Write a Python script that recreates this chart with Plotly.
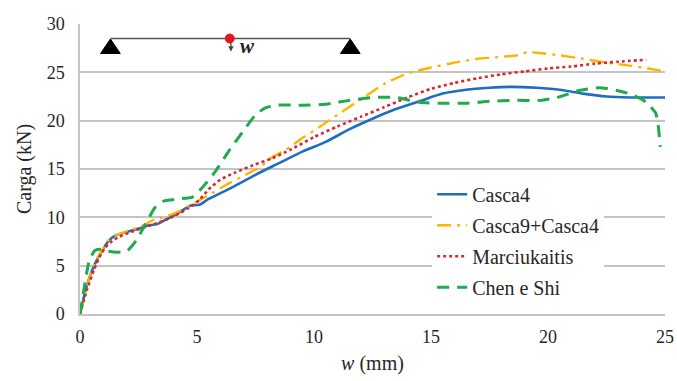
import plotly.graph_objects as go

# ---- data ----
casca4_x = [0, 0.3, 0.7, 1.2, 1.5, 2.0, 2.6, 3.0, 3.3, 3.7, 4.3, 4.7, 5.1, 5.5, 6.5, 7.5, 8.5, 9.5,
            10.5, 11.5, 12.5, 13.5, 14.5, 15.5, 16.5, 17.5, 18.5, 19.5, 20.5, 21.5, 22.5, 23.5, 25.0]
casca4_y = [0, 3.0, 5.5, 7.5, 8.1, 8.5, 8.9, 9.2, 9.3, 9.8, 10.6, 11.2, 11.3, 11.9, 13.1, 14.4, 15.6, 16.8,
            17.8, 19.1, 20.2, 21.2, 22.0, 22.8, 23.2, 23.4, 23.5, 23.4, 23.2, 22.8, 22.5, 22.4, 22.4]

casca9_x = [0, 0.3, 0.7, 1.2, 1.6, 2.2, 2.7, 3.2, 3.7, 4.3, 4.9, 5.5, 6.2, 7.0, 7.7, 8.2, 8.8, 9.5, 10.2,
            11.0, 12.0, 13.0, 14.0, 15.0, 16.0, 17.0, 18.0, 18.8, 19.1, 19.6, 20.4, 21.5, 22.5, 23.5, 24.3, 25.0]
casca9_y = [0, 3.0, 5.6, 7.6, 8.2, 8.7, 9.2, 9.8, 10.1, 10.7, 11.5, 12.3, 13.3, 14.3, 15.2, 16.2, 17.0, 18.2, 19.3,
            20.6, 22.2, 23.8, 24.9, 25.5, 26.0, 26.4, 26.6, 26.8, 27.1, 27.0, 26.8, 26.4, 26.0, 25.7, 25.4, 25.1]

marc_x = [0, 0.3, 0.6, 0.9, 1.2, 1.6, 2.2, 2.8, 3.4, 4.0, 4.6, 5.1, 5.5, 6.0, 6.6, 7.4, 8.2, 9.0, 10.0,
          11.0, 12.0, 13.0, 14.0, 15.0, 16.0, 17.0, 18.0, 19.0, 20.0, 21.0, 22.0, 23.0, 24.2]
marc_y = [0, 2.5, 4.6, 6.2, 7.2, 7.9, 8.5, 9.0, 9.5, 10.1, 10.9, 11.8, 12.9, 13.9, 14.6, 15.4, 16.1, 17.0, 18.3,
          19.4, 20.4, 21.4, 22.4, 23.3, 23.9, 24.4, 24.8, 25.1, 25.4, 25.6, 25.9, 26.1, 26.3]

chen_x = [0, 0.2, 0.4, 0.65, 0.9, 1.2, 1.6, 2.0, 2.4, 2.8, 3.2, 3.6, 4.2, 4.8, 5.2, 5.8, 6.4, 7.0, 7.5, 7.9,
          8.4, 9.5, 10.5, 11.5, 12.5, 13.5, 14.5, 15.5, 16.5, 17.5, 18.5, 19.7, 20.4, 21.3, 22.2, 23.0, 23.6,
          24.2, 24.6, 24.7, 24.8]
chen_y = [0, 3.0, 5.6, 6.6, 6.7, 6.5, 6.4, 6.5, 7.6, 9.3, 11.0, 11.7, 11.9, 12.1, 13.0, 14.8, 17.0, 19.0, 20.6, 21.3,
          21.6, 21.6, 21.7, 22.1, 22.4, 22.4, 21.9, 21.8, 21.8, 22.0, 22.1, 22.1, 22.4, 23.1, 23.4, 23.1, 22.7,
          21.9, 20.8, 19.7, 17.3]

series_names = ["Casca4", "Casca9+Casca4", "Marciukaitis", "Chen e Shi"]
x_ticks = [0, 5, 10, 15, 20, 25]
y_ticks = [0, 5, 10, 15, 20, 25, 30]

FONT = "Liberation Serif"
GRID = "#C4C4C4"
TXT = "#262626"

fig = go.Figure()
fig.add_trace(go.Scatter(x=casca4_x, y=casca4_y, mode="lines", name=series_names[0], legendgroup="a",
                         line=dict(color="#1F6DC2", width=2.6, shape="spline", smoothing=0.6)))
fig.add_trace(go.Scatter(x=casca9_x, y=casca9_y, mode="lines", name=series_names[1], legendgroup="b",
                         line=dict(color="#FFB300", width=2.4, dash="14px,6px,3px,6px", shape="spline", smoothing=0.4)))
fig.add_trace(go.Scatter(x=marc_x, y=marc_y, mode="lines", name=series_names[2], legendgroup="c",
                         line=dict(color="#D7282C", width=2.6, dash="dot", shape="spline", smoothing=0.6)))
fig.add_trace(go.Scatter(x=chen_x, y=chen_y, mode="lines", name=series_names[3], legendgroup="d",
                         line=dict(color="#1FAA4C", width=3, dash="12px,8px", shape="spline", smoothing=0.5)))

# ---- beam diagram ----
fig.add_shape(type="line", xref="x", yref="y", x0=1.3, x1=11.55, y0=28.5, y1=28.5,
              line=dict(color="#555555", width=1.5))
for cx in (1.3, 11.55):
    fig.add_shape(type="path", xref="x", yref="y",
                  path=f"M {cx} 28.45 L {cx-0.42} 26.95 L {cx+0.42} 26.95 Z",
                  fillcolor="black", line=dict(color="black", width=1))
fig.add_annotation(x=6.45, y=27.15, xref="x", yref="y", ax=0, ay=-11, text="", showarrow=True,
                   arrowhead=2, arrowsize=0.9, arrowwidth=1.2, arrowcolor="#444444")
fig.add_shape(type="circle", xref="x", yref="y", xsizemode="pixel", ysizemode="pixel",
              xanchor=6.4, yanchor=28.5, x0=-4.5, x1=4.5, y0=-4.5, y1=4.5,
              fillcolor="#E8161C", line=dict(color="#E8161C", width=1))
fig.add_annotation(x=6.75, y=27.7, xref="x", yref="y", xanchor="left", yanchor="middle",
                   text="<b><i>w</i></b>", showarrow=False,
                   font=dict(family=FONT, size=21, color="#222222"))

fig.update_layout(
    width=677, height=381,
    margin=dict(l=80, r=12, t=24, b=67, autoexpand=False),
    paper_bgcolor="white", plot_bgcolor="white",
    font=dict(family=FONT, size=18, color=TXT),
    showlegend=True,
    legend=dict(x=0.602, y=0.48, xanchor="left", yanchor="top", bgcolor="white",
                font=dict(family=FONT, size=20, color=TXT),
                tracegroupgap=2, traceorder="grouped"),
)
fig.update_xaxes(range=[0, 25], tickvals=x_ticks, showgrid=False, zeroline=False, automargin=False,
                 showline=True, linecolor=GRID, linewidth=1.5, ticks="", ticklabelstandoff=6,
                 tickfont=dict(family=FONT, size=18, color=TXT),
                 title=dict(text="<i>w</i> (mm)", font=dict(family=FONT, size=20, color=TXT), standoff=10))
fig.update_yaxes(range=[0, 30], tickvals=y_ticks, showgrid=True, gridcolor=GRID, gridwidth=1.5,
                 automargin=False,
                 zeroline=False, showline=True, linecolor=GRID, linewidth=1.5, ticks="",
                 ticklabelstandoff=10, tickfont=dict(family=FONT, size=18, color=TXT),
                 title=dict(text="Carga (kN)", font=dict(family=FONT, size=20, color=TXT), standoff=10))

# remove the default 8px page margin so the 677x381 figure fills the window exactly
fig.write_html("out.html", config={"displayModeBar": False},
               post_script="document.body.style.margin='0';document.body.style.overflow='hidden';")
